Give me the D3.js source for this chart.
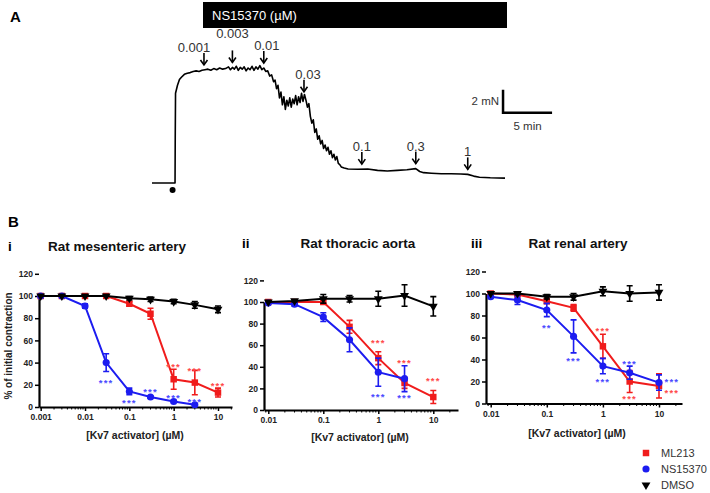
<!DOCTYPE html>
<html>
<head>
<meta charset="utf-8">
<script src="https://cdn.jsdelivr.net/npm/d3@7"></script>
<style>
  body { margin: 0; background: #fff; }
  svg { display: block; font-family: Arial, "Liberation Sans", sans-serif; }
</style>
</head>
<body>
<div id="chart"></div>
<script>
// Figure: A = tension trace with NS15370 doses, B = concentration-response curves

const width = 710, height = 493;

// ---- panel A data: [time (min), tension (mN)] ----
const trace = [
  [0,0],[2.35,0],[2.37,4],[2.4,7.8],[2.6,8.5],[2.8,9.0],[3.0,9.2],[3.3,9.45],[3.6,9.55],[3.9,9.6],
  [4.2,9.7],[4.5,9.75],[4.8,9.7],[5.1,9.8],[5.4,9.85],[5.7,9.9],[6.0,9.8],[6.3,9.95],[6.6,9.85],
  [6.9,10.0],[7.2,9.9],[7.5,9.95],[7.8,10.1],[8.0,9.85],[8.2,10.05],[8.4,9.9],[8.6,10.15],[8.8,9.8],
  [9.0,10.05],[9.2,9.9],[9.4,10.1],[9.6,9.75],[9.8,10.0],[10.0,9.85],[10.2,10.15],[10.4,9.8],
  [10.6,10.1],[10.8,9.9],[11.0,10.2],[11.2,9.85],[11.4,10.0],[11.6,9.7],[11.8,9.75],[12.0,9.3],
  [12.2,9.4],[12.4,8.8],[12.55,8.95],[12.7,8.2],[12.85,8.5],[13.0,7.4],[13.15,7.9],[13.3,6.8],
  [13.45,7.5],[13.6,6.4],[13.75,7.2],[13.9,6.7],[14.05,7.4],[14.2,6.6],[14.35,7.3],[14.5,6.9],
  [14.65,7.6],[14.8,6.8],[14.95,7.5],[15.1,7.0],[15.25,7.8],[15.4,7.1],[15.55,7.7],[15.7,7.2],
  [15.85,6.6],[16.0,6.9],[16.15,5.8],[16.3,5.2],[16.45,5.5],[16.6,4.4],[16.75,4.7],[16.9,3.8],
  [17.05,4.1],[17.2,3.4],[17.35,3.7],[17.5,3.0],[17.65,3.3],[17.8,2.8],[17.95,3.1],[18.1,2.5],
  [18.25,2.8],[18.4,2.2],[18.55,2.5],[18.7,2.0],[18.85,2.3],[19.0,1.7],[19.15,1.6],[19.3,1.4],
  [19.6,1.3],[20.0,1.22],[21,1.2],[22,1.22],[23,1.1],[24,1.05],[25,1.1],[26,1.15],[26.9,1.25],
  [27.3,1.0],[27.7,0.9],[28.5,0.85],[29.5,0.8],[30.5,0.8],[31.5,0.78],[32.2,0.75],[32.8,0.6],
  [33.4,0.5],[34.5,0.45],[36,0.42]
];
const doseLabels = ["0.001", "0.003", "0.01", "0.03", "0.1", "0.3", "1"];
const doseTimes = [5.3, 8.2, 11.4, 15.5, 21.4, 26.9, 32.2];

// ---- panel B data (% of initial contraction) ----
const dosesMes = [0.001, 0.003, 0.01, 0.03, 0.1, 0.3, 1, 3, 10];
const mesML213 = [100, 100, 100, 100, 93, 84, 25, 22, 13];
const mesML213Err = [0, 0, 0, 0, 2, 5, 9, 11, 4];
const mesNS = [100, 100, 91, 40, 14, 9, 5, 2];
const mesNSErr = [0, 0, 2, 8, 3, 1, 1, 1];
const mesDMSO = [100, 100, 100, 100, 98, 97, 95, 92, 88];
const mesDMSOErr = [0, 0, 0, 0, 1.5, 2, 2, 3, 3];
const mesStars = [
  ["ns", 0.03, 24, "***"], ["ns", 0.1, 6, "***"], ["ns", 0.3, 16, "***"], ["ns", 1, 10, "***"],
  ["ns", 3, 7, "***"], ["ml", 1, 38, "***"], ["ml", 3, 35, "***"], ["ml", 10, 21, "***"]
];

const doses = [0.01, 0.03, 0.1, 0.3, 1, 3, 10];
const aorML213 = [100, 100, 100, 77, 48, 25, 12];
const aorML213Err = [0, 0, 2, 6, 6, 5, 6];
const aorNS = [99, 98, 86, 65, 35, 29];
const aorNSErr = [0, 2, 4, 11, 13, 12];
const aorDMSO = [100, 101, 103, 103, 103, 106, 96];
const aorDMSOErr = [0, 1, 4, 3, 7, 10, 9];
const aorStars = [
  ["ml", 1, 64, "***"], ["ml", 3, 46, "***"], ["ml", 10, 29, "***"],
  ["ns", 1, 14, "***"], ["ns", 3, 13, "***"]
];

const renML213 = [100, 99, 93, 87, 52, 20, 16];
const renML213Err = [0, 1, 2, 3, 11, 10, 11];
const renNS = [97, 94, 85, 61, 34, 28, 19];
const renNSErr = [1, 4, 6, 15, 7, 6, 7];
const renDMSO = [100, 100, 97, 97, 102, 100, 101];
const renDMSOErr = [0, 1, 2, 3, 4, 7, 7];
const renStars = [
  ["ns", 0.1, 71, "**"], ["ns", 0.3, 41, "***"], ["ns", 1, 22, "***"], ["ns", 3, 38, "***"],
  ["ns", 17, 22, "***"], ["ml", 1, 68, "***"], ["ml", 3, 6, "***"], ["ml", 17, 12, "***"]
];

const yTicks = [0, 20, 40, 60, 80, 100, 120];
const legendNames = ["ML213", "NS15370", "DMSO"];

const red = "#f01c1c", blue = "#1c1cf0", black = "#000";
const starRed = "#ff4a4a", starBlue = "#4a4aff";

const svg = d3.select("#chart")
  .append("svg")
  .attr("width", width)
  .attr("height", height)
  .attr("viewBox", [0, 0, width, height]);

// ================= Panel A =================
const xA = d3.scaleLinear().domain([0, 36]).range([152, 505]);
const yA = d3.scaleLinear().domain([0, 10]).range([183, 68]);

svg.append("text").text("A")
  .attr("x", 10).attr("y", 22)
  .attr("font-size", 15).attr("font-weight", "bold");

svg.append("rect")
  .attr("x", 203).attr("y", 2)
  .attr("width", 304).attr("height", 26)
  .attr("fill", "#000");
svg.append("text").text("NS15370 (µM)")
  .attr("x", 212).attr("y", 20)
  .attr("fill", "#fff").attr("font-size", 13);

svg.append("path")
  .datum(trace)
  .attr("fill", "none")
  .attr("stroke", "#000")
  .attr("stroke-width", 1.6)
  .attr("stroke-linejoin", "round")
  .attr("d", d3.line().x(d => xA(d[0])).y(d => yA(d[1])));

svg.append("circle")
  .attr("cx", xA(2.1)).attr("cy", yA(0) + 7).attr("r", 3)
  .attr("fill", "#000");

const bis = d3.bisector(d => d[0]).left;
function forceAt(t) {
  const i = Math.max(1, bis(trace, t));
  const a = trace[i - 1], b = trace[i];
  return a[1] + (b[1] - a[1]) * (t - a[0]) / (b[0] - a[0]);
}

const labelShift = { "0.001": -10, "0.01": 3, "0.03": 4 };

const arrows = svg.append("g")
  .selectAll("g")
  .data(doseLabels)
  .join("g");

arrows.each(function (d, i) {
  const g = d3.select(this);
  const x = xA(doseTimes[i]);
  const tip = yA(forceAt(doseTimes[i])) - 5;
  const top = tip - 12;
  const lift = d === "0.003" ? 11 : 0;
  g.append("line")
    .attr("x1", x).attr("x2", x).attr("y1", top).attr("y2", tip)
    .attr("stroke", "#000").attr("stroke-width", 1.6);
  g.append("path")
    .attr("d", `M${x - 3.5},${tip - 5}L${x},${tip}L${x + 3.5},${tip - 5}`)
    .attr("fill", "none").attr("stroke", "#000").attr("stroke-width", 1.6);
  g.append("text").text(d)
    .attr("x", x + (labelShift[d] || 0)).attr("y", top - 1 - lift)
    .attr("text-anchor", "middle")
    .attr("font-size", 13).attr("fill", "#333");
});

// scale bar: 5 min x 2 mN
const sbT = 35.8, sbF = 6.1;
svg.append("path")
  .attr("d", `M${xA(sbT)},${yA(sbF + 2)}V${yA(sbF)}H${xA(sbT + 5)}`)
  .attr("fill", "none").attr("stroke", "#000").attr("stroke-width", 2.5);
svg.append("text").text("2 mN")
  .attr("x", xA(sbT) - 4).attr("y", yA(sbF + 1) + 4)
  .attr("text-anchor", "end").attr("font-size", 11.5).attr("fill", "#333");
svg.append("text").text("5 min")
  .attr("x", xA(sbT + 2.5)).attr("y", yA(sbF) + 17)
  .attr("text-anchor", "middle").attr("font-size", 11.5).attr("fill", "#333");

// ================= Panel B =================
svg.append("text").text("B")
  .attr("x", 8).attr("y", 227)
  .attr("font-size", 15).attr("font-weight", "bold");

const panels = [
  { roman: "i", romanX: 8, title: "Rat mesenteric artery", titleX: 117, titleY: 251,
    doses: dosesMes, ml: mesML213, mlErr: mesML213Err, ns: mesNS, nsErr: mesNSErr,
    dm: mesDMSO, dmErr: mesDMSOErr, stars: mesStars,
    ax0: 39, ax1: 232, dLo: 0.001, pLo: 40.7, pHi: 218, y0: 407, y100: 296,
    ticks: [0.001, 0.01, 0.1, 1, 10], xTitleX: 135, xTitleY: 439 },
  { roman: "ii", romanX: 242, title: "Rat thoracic aorta", titleX: 358, titleY: 248,
    doses: doses, ml: aorML213, mlErr: aorML213Err, ns: aorNS, nsErr: aorNSErr,
    dm: aorDMSO, dmErr: aorDMSOErr, stars: aorStars,
    ax0: 264, ax1: 458, dLo: 0.01, pLo: 268.3, pHi: 433.3, y0: 410, y100: 302,
    ticks: [0.01, 0.1, 1, 10], xTitleX: 360, xTitleY: 441 },
  { roman: "iii", romanX: 471, title: "Rat renal artery", titleX: 578, titleY: 248,
    doses: doses, ml: renML213, mlErr: renML213Err, ns: renNS, nsErr: renNSErr,
    dm: renDMSO, dmErr: renDMSOErr, stars: renStars,
    ax0: 486, ax1: 682, dLo: 0.01, pLo: 490.7, pHi: 659, y0: 403.5, y100: 293.5,
    ticks: [0.01, 0.1, 1, 10], xTitleX: 577, xTitleY: 437 }
];

const symSquare = d3.symbol(d3.symbolSquare, 42)();
const symCircle = d3.symbol(d3.symbolCircle, 40)();
const symTri = d3.symbol(d3.symbolTriangle, 34)();

panels.forEach(p => {
  const x = d3.scaleLog().domain([p.dLo, 10]).range([p.pLo, p.pHi]);
  x.domain([x.invert(p.ax0), x.invert(p.ax1)]).range([p.ax0, p.ax1]);
  const y = d3.scaleLinear().domain([0, 100]).range([p.y0, p.y100]);

  const g = svg.append("g");

  g.append("text").text(p.roman)
    .attr("x", p.romanX).attr("y", p.titleY)
    .attr("font-size", 13.5).attr("font-weight", "bold");
  g.append("text").text(p.title)
    .attr("x", p.titleX).attr("y", p.titleY)
    .attr("text-anchor", "middle")
    .attr("font-size", 13.5).attr("font-weight", "bold").attr("fill", "#111");

  // y axis
  const ya = g.append("g")
    .attr("transform", `translate(${p.ax0},0)`)
    .call(d3.axisLeft(y).tickValues(yTicks).tickSize(4).tickSizeOuter(0).tickPadding(2));
  // x axis
  const xa = g.append("g")
    .attr("transform", `translate(0,${y(0)})`)
    .call(d3.axisBottom(x).tickValues(p.ticks).tickFormat(d => String(d))
      .tickSize(4).tickSizeOuter(0).tickPadding(3));

  const minor = [];
  for (let e = -4; e <= 1; e++) {
    for (let k = 2; k <= 9; k++) {
      const v = k * Math.pow(10, e);
      if (x(v) > p.ax0 && x(v) < p.ax1) minor.push(v);
    }
  }
  g.append("g")
    .selectAll("line")
    .data(minor)
    .join("line")
    .attr("x1", d => x(d)).attr("x2", d => x(d))
    .attr("y1", y(0)).attr("y2", y(0) + 2.5)
    .attr("stroke", "#000").attr("stroke-width", 1);

  [ya, xa].forEach(a => {
    a.select(".domain").attr("stroke-width", 2.2);
    a.selectAll(".tick line").attr("stroke-width", 1.5);
    a.selectAll(".tick text")
      .attr("font-size", 8.5).attr("font-weight", "bold")
      .attr("fill", "#222").attr("font-family", "Arial, 'Liberation Sans', sans-serif");
  });

  g.append("text").text("[Kv7 activator] (µM)")
    .attr("x", p.xTitleX).attr("y", p.xTitleY)
    .attr("text-anchor", "middle")
    .attr("font-size", 10.5).attr("font-weight", "bold").attr("fill", "#222");

  const series = [
    { v: p.ml, e: p.mlErr, c: red, sym: symSquare, rot: 0 },
    { v: p.ns, e: p.nsErr, c: blue, sym: symCircle, rot: 0 },
    { v: p.dm, e: p.dmErr, c: black, sym: symTri, rot: 180 }
  ];

  series.forEach(s => {
    const pts = s.v.map((v, i) => ({ d: p.doses[i], v: v, e: s.e[i] }));
    g.append("path")
      .datum(pts)
      .attr("fill", "none").attr("stroke", s.c).attr("stroke-width", 2)
      .attr("d", d3.line().x(d => x(d.d)).y(d => y(d.v)));

    const eb = g.append("g").attr("stroke", s.c).attr("stroke-width", 1.6);
    pts.filter(d => d.e > 0).forEach(d => {
      const cx = x(d.d), lo = y(d.v - d.e), hi = y(d.v + d.e);
      eb.append("path")
        .attr("d", `M${cx},${lo}V${hi}M${cx - 3},${lo}H${cx + 3}M${cx - 3},${hi}H${cx + 3}`)
        .attr("fill", "none");
    });

    g.append("g")
      .selectAll("path")
      .data(pts)
      .join("path")
      .attr("d", s.sym)
      .attr("fill", s.c)
      .attr("transform", d => `translate(${x(d.d)},${y(d.v)}) rotate(${s.rot})`);
  });

  g.append("g")
    .selectAll("text")
    .data(p.stars)
    .join("text")
    .text(d => d[3])
    .attr("x", d => x(d[1]))
    .attr("y", d => y(d[2]) + 5.5)
    .attr("text-anchor", "middle")
    .attr("font-size", 9.5).attr("font-weight", "bold")
    .attr("letter-spacing", 1.2)
    .attr("fill", d => d[0] === "ml" ? starRed : starBlue);
});

// y axis title (panel i only)
svg.append("text").text("% of initial contraction")
  .attr("transform", "translate(12,346) rotate(-90)")
  .attr("text-anchor", "middle")
  .attr("font-size", 10).attr("font-weight", "bold").attr("fill", "#222");

// legend
const legSyms = [symSquare, symCircle, symTri];
const legCols = [red, blue, black];
const legend = svg.append("g")
  .selectAll("g")
  .data(legendNames)
  .join("g")
  .attr("transform", (d, i) => `translate(646,${453 + i * 16})`);
legend.append("path")
  .attr("d", (d, i) => legSyms[i])
  .attr("fill", (d, i) => legCols[i])
  .attr("transform", (d, i) => i === 2 ? "rotate(180)" : null);
legend.append("text")
  .text(d => d)
  .attr("x", 15).attr("y", 4)
  .attr("font-size", 11).attr("fill", "#333");
</script>
</body>
</html>
